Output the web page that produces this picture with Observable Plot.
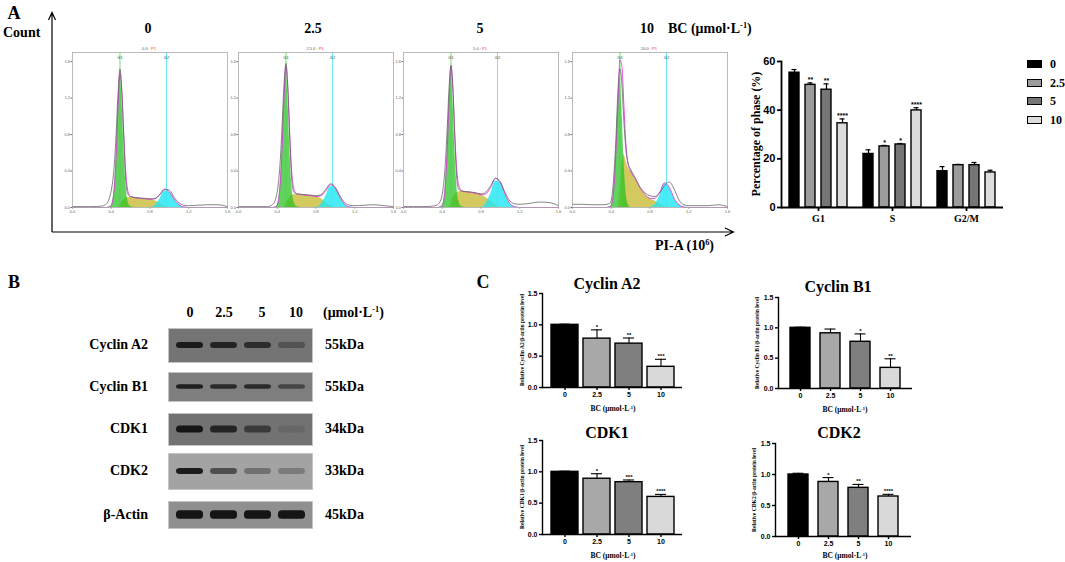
<!DOCTYPE html>
<html><head><meta charset="utf-8">
<script src="https://cdn.jsdelivr.net/npm/d3@7"></script>
<script src="https://cdn.jsdelivr.net/npm/@observablehq/plot@0.6"></script>
<style>
body{margin:0;background:#fff;}
#root{position:relative;width:1065px;height:562px;overflow:hidden;font-family:"Liberation Serif","Times New Roman",serif;font-weight:bold;color:#000;background:#fff;}
.t{position:absolute;white-space:nowrap;line-height:1;}
sup{font-size:0.6em;vertical-align:0.6em;line-height:0;}
.phaseplot g[aria-label^="fx-axis"] text{font-family:"Liberation Serif","Times New Roman",serif;font-size:10px;font-weight:bold;}
</style></head><body><div id="root"></div>
<script>
// ---------------- DATA ----------------
const doses = ["0", "2.5", "5", "10"];
const phases = ["G1", "S", "G2/M"];

// Panel A, flow-cytometry histograms (PI-A in 10^6, counts in arbitrary units)
const histX = [0, 0.1, 0.2, 0.3, 0.35, 0.39, 0.41, 0.43, 0.45, 0.47, 0.49, 0.51, 0.53, 0.55, 0.57, 0.6, 0.65, 0.7, 0.75, 0.8, 0.85, 0.9, 0.95, 1.0, 1.05, 1.1, 1.15, 1.2, 1.3, 1.4, 1.5, 1.6];
const histXTicks = [0, 0.4, 0.8, 1.2, 1.6];
const histYTicks = [0, 0.4, 0.8, 1.2, 1.6];
const histTitles = ["0.0 : ", "2.5.0 : ", "5.0 : ", "10.0 : "];
const g1Marker = 0.49, g2Marker = 0.97;

const total0 = [0.01,0.01,0.01,0.015,0.04,0.14,0.25,0.45,0.8,1.25,1.52,1.25,0.75,0.3,0.15,0.12,0.11,0.105,0.1,0.095,0.1,0.14,0.2,0.19,0.11,0.05,0.025,0.02,0.025,0.03,0.03,0.01];
const g1_0 = [0,0,0,0,0,0.01,0.05,0.2,0.55,1.1,1.45,1.2,0.7,0.28,0.08,0.01,0,0,0,0,0,0,0,0,0,0,0,0,0,0,0,0];
const s_0 = [0,0,0,0,0,0,0,0,0,0,0.03,0.06,0.08,0.1,0.11,0.11,0.105,0.1,0.095,0.09,0.075,0.05,0.02,0,0,0,0,0,0,0,0,0];
const g2_0 = [0,0,0,0,0,0,0,0,0,0,0,0,0,0,0,0,0,0,0,0,0.02,0.09,0.18,0.17,0.09,0.03,0.005,0,0,0,0,0];

const total25 = [0.01,0.01,0.01,0.01,0.03,0.12,0.25,0.5,0.9,1.35,1.58,1.3,0.75,0.3,0.17,0.15,0.145,0.14,0.135,0.13,0.14,0.2,0.26,0.22,0.12,0.05,0.025,0.02,0.025,0.03,0.02,0.01];
const g1_25 = [0,0,0,0,0,0.01,0.06,0.25,0.65,1.2,1.52,1.2,0.65,0.25,0.07,0.01,0,0,0,0,0,0,0,0,0,0,0,0,0,0,0,0];
const s_25 = [0,0,0,0,0,0,0,0,0,0,0.04,0.08,0.11,0.13,0.14,0.14,0.14,0.135,0.13,0.12,0.1,0.06,0.02,0,0,0,0,0,0,0,0,0];
const g2_25 = [0,0,0,0,0,0,0,0,0,0,0,0,0,0,0,0,0,0,0,0,0.03,0.12,0.23,0.21,0.11,0.03,0.005,0,0,0,0,0];

const total5 = [0.01,0.01,0.01,0.015,0.03,0.1,0.22,0.45,0.85,1.3,1.56,1.3,0.75,0.32,0.2,0.18,0.175,0.17,0.16,0.15,0.17,0.24,0.32,0.28,0.16,0.07,0.04,0.035,0.045,0.06,0.055,0.02];
const g1_5 = [0,0,0,0,0,0.01,0.05,0.22,0.6,1.15,1.5,1.2,0.65,0.25,0.07,0.01,0,0,0,0,0,0,0,0,0,0,0,0,0,0,0,0];
const s_5 = [0,0,0,0,0,0,0,0,0,0,0.05,0.1,0.14,0.16,0.17,0.175,0.17,0.165,0.155,0.14,0.11,0.07,0.03,0,0,0,0,0,0,0,0,0];
const g2_5 = [0,0,0,0,0,0,0,0,0,0,0,0,0,0,0,0,0,0,0,0,0.04,0.15,0.29,0.27,0.14,0.04,0.008,0,0,0,0,0];

const total10 = [0.035,0.035,0.03,0.03,0.035,0.05,0.15,0.4,0.8,1.3,1.52,1.35,0.95,0.65,0.5,0.42,0.32,0.22,0.16,0.13,0.12,0.16,0.24,0.28,0.2,0.08,0.03,0.02,0.02,0.02,0.03,0.01];
const g1_10 = [0,0,0,0,0,0.01,0.06,0.25,0.65,1.15,1.42,1.1,0.55,0.2,0.05,0,0,0,0,0,0,0,0,0,0,0,0,0,0,0,0,0];
const s_10 = [0,0,0,0,0,0,0,0,0,0,0.2,0.45,0.58,0.52,0.45,0.4,0.31,0.21,0.14,0.1,0.07,0.04,0.01,0,0,0,0,0,0,0,0,0];
const g2_10 = [0,0,0,0,0,0,0,0,0,0,0,0,0,0,0,0,0,0,0,0,0.03,0.13,0.26,0.22,0.1,0.03,0.005,0,0,0,0,0];

// Panel A, percentage of phase (%)
const pctG1 = [55.4, 50.4, 48.4, 34.6], pctG1Err = [56.7, 51.2, 50.8, 36.4], pctG1Sig = ["", "**", "**", "****"];
const pctS = [22.0, 25.1, 25.9, 39.9], pctSErr = [23.7, 25.5, 26.3, 41.0], pctSSig = ["", "*", "*", "****"];
const pctG2M = [14.9, 17.4, 17.4, 14.4], pctG2MErr = [16.8, 17.7, 18.5, 15.3], pctG2MSig = ["", "", "", ""];
const pctTicks = [0, 20, 40, 60];

// Panel B, western blot band intensities (relative darkness)
const blotProteins = ["Cyclin A2", "Cyclin B1", "CDK1", "CDK2", "β-Actin"];
const blotKDa = ["55kDa", "55kDa", "34kDa", "33kDa", "45kDa"];
const blotA2 = [0.95, 0.85, 0.75, 0.35];
const blotB1 = [0.9, 0.8, 0.8, 0.55];
const blotCDK1 = [1.0, 0.85, 0.6, 0.12];
const blotCDK2 = [0.95, 0.6, 0.35, 0.28];
const blotActin = [1.0, 1.0, 1.0, 1.0];

// Panel C, relative protein levels
const relTicks = [0, 0.5, 1.0, 1.5];
const cyclinA2 = [1.0, 0.78, 0.70, 0.33], cyclinA2Err = [1.01, 0.92, 0.79, 0.45], cyclinA2Sig = ["", "*", "**", "***"];
const cyclinB1 = [1.0, 0.91, 0.77, 0.34], cyclinB1Err = [1.01, 0.98, 0.90, 0.49], cyclinB1Sig = ["", "", "*", "**"];
const cdk1 = [1.0, 0.89, 0.835, 0.60], cdk1Err = [1.01, 0.97, 0.87, 0.64], cdk1Sig = ["", "*", "***", "****"];
const cdk2 = [1.0, 0.88, 0.785, 0.645], cdk2Err = [1.02, 0.95, 0.84, 0.68], cdk2Sig = ["", "*", "**", "****"];

// ---------------- HELPERS ----------------
const serif = '"Liberation Serif","Times New Roman",serif';
const sans = '"Liberation Sans",Arial,sans-serif';
const root = document.getElementById("root");
function label(html, x, y, size, opts = {}) {
  const d = document.createElement("div");
  d.className = "t";
  d.innerHTML = html;
  d.style.fontSize = size + "px";
  d.style.left = x + "px";
  d.style.top = y + "px";
  d.style.fontFamily = opts.family || serif;
  const ax = opts.anchor === "start" ? "0" : opts.anchor === "end" ? "-100%" : "-50%";
  d.style.transform = `translate(${ax},-50%)` + (opts.rotate ? ` rotate(${opts.rotate}deg)` : "");
  if (opts.color) d.style.color = opts.color;
  if (opts.weight) d.style.fontWeight = opts.weight;
  root.appendChild(d);
  return d;
}
function place(node, left, top) {
  node.style.position = "absolute";
  node.style.left = left + "px";
  node.style.top = top + "px";
  root.appendChild(node);
}
const unit = 'μmol·L<sup>-1</sup>';

// ---------------- PANEL A: histograms ----------------
label("A", 14, 13, 18);
label("Count", 3, 33, 14, {anchor: "start"});
label('PI-A (10<sup>6</sup>)', 655, 246, 14, {anchor: "start"});
const colX = [148, 313, 480, 647];
doses.forEach((d, i) => label(d, colX[i], 29, 14));
label('BC (' + unit + ')', 668, 29, 14, {anchor: "start"});

// axis arrows
const arrows = document.createElementNS("http://www.w3.org/2000/svg", "svg");
arrows.setAttribute("width", 1065); arrows.setAttribute("height", 562);
arrows.innerHTML = '<path d="M52,232 V13 M48.5,20 L52,12.5 L55.5,20 M52,232 H733 M725,228 L733.5,232 L725,236" fill="none" stroke="#000" stroke-width="1.2"/>';
place(arrows, 0, 0);

const histSets = [
  [total0, g1_0, s_0, g2_0],
  [total25, g1_25, s_25, g2_25],
  [total5, g1_5, s_5, g2_5],
  [total10, g1_10, s_10, g2_10]
];
const histLeft = [72, 238, 403, 572];
histSets.forEach(([tot, g1, s, g2], k) => {
  const rows = histX.map((x, i) => ({x, total: tot[i], g1: g1[i], s: s[i], g2: g2[i], fit: g1[i] + s[i] + g2[i]}));
  const p = Plot.plot({
    width: 165, height: 167, marginLeft: 8, marginRight: 2, marginTop: 2, marginBottom: 10,
    style: {fontSize: "4px", fontFamily: sans, fontWeight: "normal", color: "#666", background: "transparent", overflow: "visible"},
    x: {domain: [0, 1.6], ticks: histXTicks, tickSize: 1.5, tickPadding: 1, label: null},
    y: {domain: [0, 1.7], ticks: histYTicks, tickSize: 1.5, tickPadding: 1, label: null},
    marks: [
      Plot.areaY(rows, {x: "x", y: "s", fill: "#c8bc36", fillOpacity: 0.8, curve: "monotone-x"}),
      Plot.areaY(rows, {x: "x", y: "g1", fill: "#22c01e", fillOpacity: 0.72, curve: "monotone-x"}),
      Plot.areaY(rows, {x: "x", y: "g2", fill: "#1ee6f2", fillOpacity: 0.8, curve: "monotone-x"}),
      Plot.ruleX([g1Marker], {stroke: "#4fd34f", strokeWidth: 0.8}),
      Plot.ruleX([g2Marker], {stroke: "#3fe6f0", strokeWidth: 0.8}),
      Plot.line(rows, {x: "x", y: "fit", stroke: "#e03ce0", strokeWidth: 0.9, curve: "monotone-x"}),
      Plot.line(rows, {x: "x", y: "total", stroke: "#666", strokeWidth: 0.8, curve: "monotone-x"}),
      Plot.text(["G1"], {x: g1Marker, frameAnchor: "top", dy: 4, text: d => d, fontSize: 4, fill: "#444"}),
      Plot.text(["G2"], {x: g2Marker, frameAnchor: "top", dy: 4, text: d => d, fontSize: 4, fill: "#444"}),
      Plot.frame({stroke: "#aaa", strokeWidth: 0.8})
    ]
  });
  place(p, histLeft[k] - 8, 50);
  label(histTitles[k] + '<span style="color:#e33">P1</span>', histLeft[k] + 77, 49, 4, {family: sans, weight: "normal", color: "#555"});
});

// ---------------- PANEL A: phase bar chart ----------------
const phaseColors = ["#000000", "#9c9c9c", "#767676", "#dcdcdc"];
const pctRows = [];
[[pctG1, pctG1Err, pctG1Sig], [pctS, pctSErr, pctSSig], [pctG2M, pctG2MErr, pctG2MSig]].forEach(([v, e, s], i) =>
  doses.forEach((d, j) => pctRows.push({phase: phases[i], dose: d, v: v[j], err: e[j], sig: s[j]})));
const phasePlot = Plot.plot({
  className: "phaseplot",
  width: 278, height: 192, marginLeft: 45, marginRight: 10, marginTop: 21, marginBottom: 25,
  style: {fontFamily: sans, fontWeight: "bold", fontSize: "11px", color: "#000", background: "transparent", overflow: "visible", strokeWidth: "1.8"},
  fx: {domain: phases, padding: 0, axis: "bottom", label: null, tickSize: 4, tickPadding: 3},
  x: {domain: doses, axis: null, paddingInner: 0.36, paddingOuter: 0.45},
  y: {domain: [0, 60], ticks: pctTicks, line: true, label: null, tickSize: 4, tickPadding: 2},
  color: {domain: doses, range: phaseColors},
  marks: [
    Plot.ruleX(pctRows, {fx: "phase", x: "dose", y1: "v", y2: "err", stroke: "#000", strokeWidth: 1.2}),
    Plot.tickY(pctRows, {fx: "phase", x: "dose", y: "err", stroke: "#000", strokeWidth: 1.2, insetLeft: 2.5, insetRight: 2.5}),
    Plot.barY(pctRows, {fx: "phase", x: "dose", y: "v", fill: "dose", stroke: "#000", strokeWidth: 1.4}),
    Plot.ruleY([0], {stroke: "#000", strokeWidth: 2}),
    Plot.text(pctRows, {fx: "phase", x: "dose", y: "err", text: "sig", dy: -3, fontSize: 7, fontFamily: sans})
  ]
});
place(phasePlot, 735, 40);
label("Percentage of phase (%)", 756, 134, 12, {rotate: -90});
const legY = [64, 83, 101, 120];
doses.forEach((d, i) => {
  const sw = document.createElement("div");
  sw.style.cssText = `position:absolute;left:1027px;top:${legY[i] - 4}px;width:13px;height:6px;border:1.5px solid #000;background:${phaseColors[i]}`;
  root.appendChild(sw);
  label(d, 1050, legY[i], 12, {anchor: "start"});
});

// ---------------- PANEL B: western blot ----------------
label("B", 14, 282, 18);
const laneX = [190, 224, 262, 296];
doses.forEach((d, i) => label(d, laneX[i], 313, 14));
label('(' + unit + ')', 323, 313, 14, {anchor: "start"});
const blotSets = [blotA2, blotB1, blotCDK1, blotCDK2, blotActin];
const stripTop = [328, 372, 413, 453, 501];
const stripH = [34, 29, 32, 36, 27];
const stripBg = ["#747474", "#7e7e7e", "#727272", "#a3a3a3", "#8f8f8f"];
const bandH = [6, 4.5, 7, 6, 8.5];
blotSets.forEach((vals, k) => {
  const rows = doses.map((d, i) => ({dose: d, a: vals[i]}));
  const H = stripH[k], ins = (H - bandH[k]) / 2;
  const p = Plot.plot({
    width: 144, height: H, margin: 0,
    style: {background: "transparent", overflow: "visible", filter: "blur(0.45px)"},
    x: {domain: doses, axis: null, padding: 0.22},
    y: {domain: [0, 1], axis: null},
    marks: [
      Plot.frame({fill: stripBg[k], stroke: "#c4c4c4", strokeWidth: 1}),
      Plot.barY(rows, {x: "dose", y1: 0, y2: 1, insetTop: ins, insetBottom: ins, fill: "#151515", fillOpacity: "a", rx: 3.5})
    ]
  });
  place(p, 168, stripTop[k]);
  label(blotProteins[k], 148, stripTop[k] + H / 2, 14, {anchor: "end"});
  label(blotKDa[k], 325, stripTop[k] + H / 2, 14, {anchor: "start"});
});

// ---------------- PANEL C: relative protein levels ----------------
label("C", 483, 282, 18);
const relColors = ["#000000", "#a8a8a8", "#7f7f7f", "#d9d9d9"];
function relChart(name, vals, errs, sigs, cfg) {
  const rows = doses.map((d, i) => ({dose: d, v: vals[i], err: errs[i], sig: sigs[i]}));
  const ml = 25, mt = 6, mb = 14, mr = 4;
  const w = cfg.right - cfg.axis, h = cfg.zero - cfg.top;
  const p = Plot.plot({
    width: ml + w + mr, height: mt + h + mb, marginLeft: ml, marginRight: mr, marginTop: mt, marginBottom: mb,
    style: {fontFamily: sans, fontWeight: "bold", fontSize: "7px", color: "#000", background: "transparent", overflow: "visible", strokeWidth: "1.4"},
    x: {domain: doses, paddingInner: cfg.pi, paddingOuter: cfg.po, label: null, tickSize: 3, tickPadding: 2},
    y: {domain: [0, 1.5], ticks: relTicks, tickFormat: d3.format(".1f"), line: true, label: null, tickSize: 3, tickPadding: 2},
    color: {domain: doses, range: relColors},
    marks: [
      Plot.ruleX(rows, {x: "dose", y1: "v", y2: "err", stroke: "#000", strokeWidth: 1.1}),
      Plot.tickY(rows, {x: "dose", y: "err", stroke: "#000", strokeWidth: 1.1, insetLeft: cfg.cap, insetRight: cfg.cap}),
      Plot.barY(rows, {x: "dose", y: "v", fill: "dose", stroke: "#000", strokeWidth: 1.4}),
      Plot.ruleY([0], {stroke: "#000", strokeWidth: 1.6}),
      Plot.text(rows, {x: "dose", y: "err", text: "sig", dy: -3, fontSize: 6})
    ]
  });
  place(p, cfg.axis - ml, cfg.top - mt);
  label(name, cfg.tx, cfg.ty, 16);
  label("Relative " + name + "/β-actin protein level", cfg.lx, (cfg.top + cfg.zero) / 2, 5.5, {rotate: -90});
  label('BC (' + unit + ')', cfg.ax, cfg.ay, 7.5);
}
relChart("Cyclin A2", cyclinA2, cyclinA2Err, cyclinA2Sig, {axis: 542, top: 293, zero: 387, right: 682, pi: 0.16, po: 0.25, cap: 8, tx: 607, ty: 284, lx: 523, ax: 613, ay: 409});
relChart("Cyclin B1", cyclinB1, cyclinB1Err, cyclinB1Sig, {axis: 778, top: 297, zero: 388, right: 912, pi: 0.35, po: 0.35, cap: 4.5, tx: 838, ty: 287, lx: 758, ax: 845, ay: 410});
relChart("CDK1", cdk1, cdk1Err, cdk1Sig, {axis: 542, top: 440, zero: 534, right: 682, pi: 0.16, po: 0.25, cap: 8, tx: 607, ty: 433, lx: 523, ax: 613, ay: 556});
relChart("CDK2", cdk2, cdk2Err, cdk2Sig, {axis: 775, top: 443, zero: 536, right: 911, pi: 0.35, po: 0.39, cap: 4.5, tx: 839, ty: 433, lx: 755, ax: 845, ay: 556});
</script></body></html>
